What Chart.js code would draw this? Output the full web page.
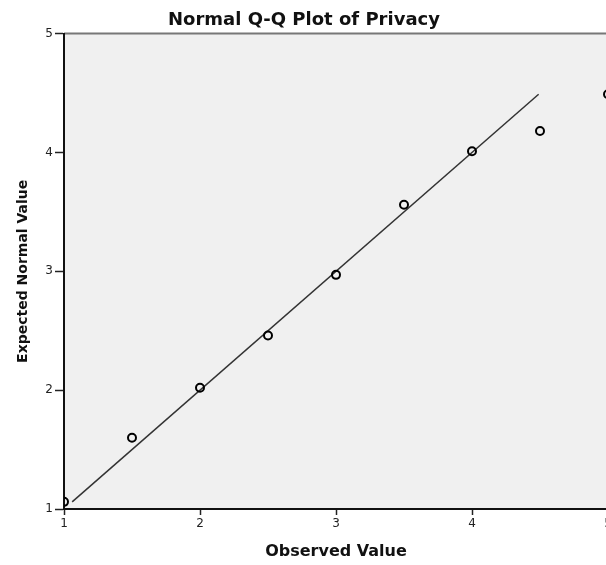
<!DOCTYPE html>
<html>
<head>
<meta charset="utf-8">
<script src="https://cdn.jsdelivr.net/npm/chart.js@4"></script>
<style>
  html, body { margin: 0; padding: 0; background: #fff; overflow: hidden; }
  #wrap { width: 606px; height: 565px; overflow: hidden; }
</style>
</head>
<body>
<div id="wrap"><canvas id="qqChart" width="620" height="565"></canvas></div>
<script>
const observedValues = [1, 1.5, 2, 2.5, 3, 3.5, 4, 4.5, 5];
const expectedValues = [1.06, 1.60, 2.02, 2.46, 2.97, 3.56, 4.01, 4.18, 4.49];

// reference line (y = x) endpoints
const lineX = [1.06, 4.49];
const lineY = [1.06, 4.49];

const xTicks = [1, 2, 3, 4, 5];
const yTicks = [1, 2, 3, 4, 5];

const titleFont = '"DejaVu Sans", Verdana, sans-serif';
const tickFont = '"DejaVu Sans", Verdana, sans-serif';

// plot background and top frame line
const plotBackground = {
    id: 'plotBackground',
    beforeDraw(chart) {
        const ctx = chart.ctx;
        const a = chart.chartArea;
        ctx.save();
        ctx.fillStyle = '#f0f0f0';
        ctx.fillRect(a.left, a.top, a.right - a.left, a.bottom - a.top);
        ctx.strokeStyle = '#777';
        ctx.lineWidth = 2;
        ctx.beginPath();
        ctx.moveTo(a.left, a.top);
        ctx.lineTo(a.right + 20, a.top);
        ctx.stroke();
        ctx.restore();
    }
};

const ctx = document.getElementById('qqChart').getContext('2d');
const qqChart = new Chart(ctx, {
    type: 'scatter',
    data: {
        datasets: [{
            label: 'Observed',
            data: observedValues.map((x, i) => ({ x: x, y: expectedValues[i] })),
            pointRadius: 4,
            pointBorderWidth: 2,
            pointBackgroundColor: 'rgba(0,0,0,0)',
            pointBorderColor: '#000',
            clip: 0,
            order: 1
        }, {
            label: 'Line',
            type: 'line',
            data: lineX.map((x, i) => ({ x: x, y: lineY[i] })),
            borderColor: '#333',
            borderWidth: 1.5,
            pointRadius: 0,
            fill: false,
            order: 2
        }]
    },
    options: {
        responsive: false,
        animation: false,
        layout: { padding: { left: 0, right: 12, top: 0, bottom: 0 } },
        plugins: {
            legend: { display: false },
            tooltip: { enabled: false },
            title: {
                display: true,
                text: 'Normal Q-Q Plot of Privacy',
                color: '#111',
                font: { family: titleFont, size: 18, weight: 'bold' },
                padding: { top: 10, bottom: 2 }
            }
        },
        scales: {
            x: {
                type: 'linear',
                min: 1,
                max: 5,
                afterBuildTicks: s => { s.ticks = xTicks.map(v => ({ value: v })); },
                afterFit: s => { s.height = 56; },
                ticks: {
                    color: '#222',
                    font: { family: tickFont, size: 12 },
                    padding: 2,
                    maxRotation: 0
                },
                grid: { drawOnChartArea: false, tickLength: 6, color: '#222', tickWidth: 1.5 },
                border: { color: '#111', width: 2 },
                title: {
                    display: true,
                    text: 'Observed Value',
                    color: '#111',
                    font: { family: titleFont, size: 16, weight: 'bold' },
                    padding: { top: 10 }
                }
            },
            y: {
                type: 'linear',
                min: 1,
                max: 5,
                afterBuildTicks: s => { s.ticks = yTicks.map(v => ({ value: v })); },
                afterFit: s => { s.width = 64; },
                ticks: {
                    color: '#222',
                    font: { family: tickFont, size: 12 },
                    padding: 2
                },
                grid: { drawOnChartArea: false, tickLength: 9, color: '#222', tickWidth: 1.5 },
                border: { color: '#111', width: 2 },
                title: {
                    display: true,
                    text: 'Expected Normal Value',
                    color: '#111',
                    font: { family: titleFont, size: 14, weight: 'bold' },
                    padding: { top: 15 }
                }
            }
        }
    },
    plugins: [plotBackground]
});
</script>
</body>
</html>
